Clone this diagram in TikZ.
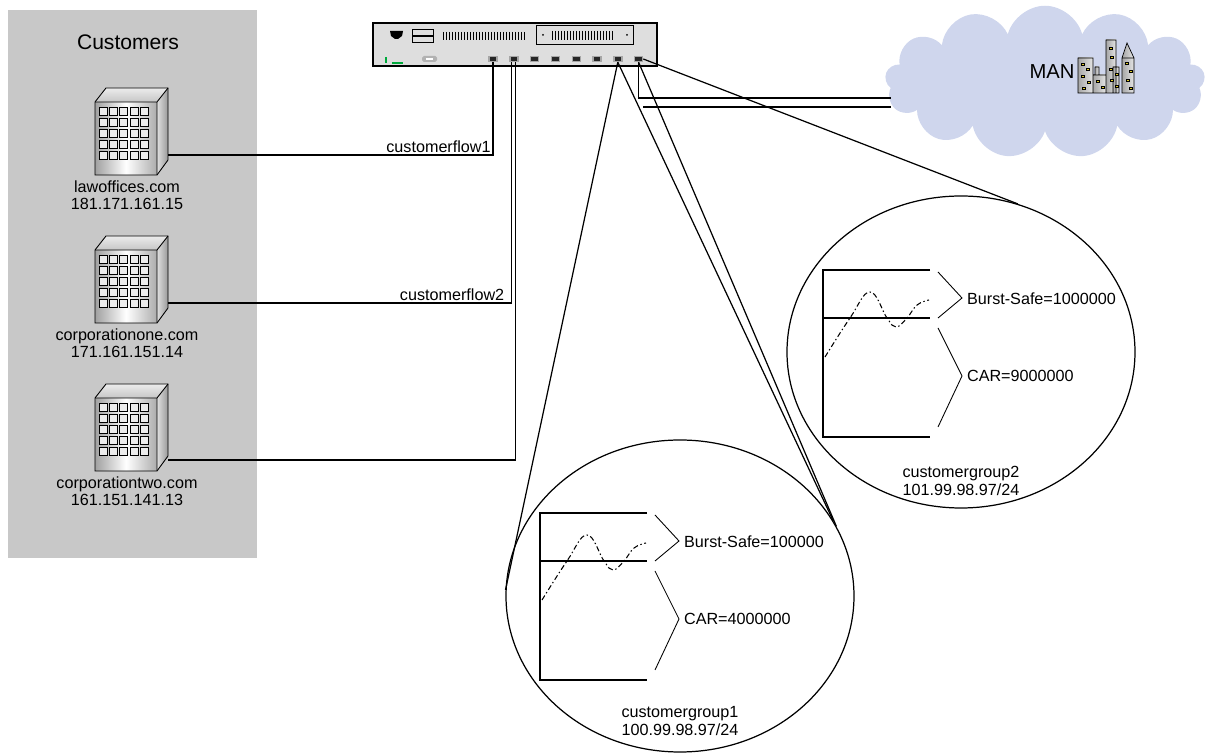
\documentclass[tikz,border=0pt]{standalone}
\usepackage{fontspec}
\setmainfont{Liberation Sans}
\usepackage{tikz}
\usetikzlibrary{shapes.geometric, shapes.symbols}
\usetikzlibrary{positioning}
\definecolor{panelgray}{RGB}{200,200,200}
\definecolor{cloudblue}{RGB}{207,214,237}
\definecolor{boxgray}{RGB}{222,222,222}
\definecolor{ledgreen}{RGB}{0,170,60}
\definecolor{winyellow}{RGB}{225,205,40}
\tikzstyle{port} = [rectangle, fill=black!85, draw=gray!70, line width=0.8pt, minimum width=0.16cm, minimum height=0.1cm, inner sep=0pt]
\tikzstyle{link} = [line width=0.7pt]
\tikzstyle{lbl} = [font=\fontsize{9.2}{9.4}\selectfont, inner sep=1pt]
\tikzstyle{zoomcirc} = [ellipse, draw, line width=0.7pt, minimum width=6.96cm, minimum height=6.24cm, inner sep=0pt]

\begin{document}
\begin{tikzpicture}[x=0.2mm, y=-0.2mm]
	\useasboundingbox (0,0) rectangle (1206,755);
	% customer side
	\fill[panelgray] (8,10) rectangle (257,558);
	\node [font=\fontsize{12}{13}\selectfont] (cust) at (128,42) {Customers};
	\foreach \i/\y/\ly/\dom/\ip in {1/138/155/lawoffices.com/181.171.161.15, 2/286/303/corporationone.com/171.161.151.14, 3/434/460/corporationtwo.com/161.151.141.13} {
		\shade[left color=gray!75, right color=gray!65, middle color=white] (95,\y-36) rectangle (157,\y+37);
		\shade[top color=gray!15, bottom color=gray!45] (95,\y-36) -- (106,\y-50) -- (168,\y-50) -- (157,\y-36) -- cycle;
		\shade[left color=gray!25, right color=gray!80] (157,\y-36) -- (168,\y-50) -- (168,\y+22) -- (157,\y+37) -- cycle;
		\draw[line width=0.5pt] (95,\y+37) -- (95,\y-36) -- (106,\y-50) -- (168,\y-50) -- (168,\y+22) -- (157,\y+37) -- cycle;
		\draw[line width=0.5pt] (95,\y-36) -- (157,\y-36) -- (168,\y-50) (157,\y-36) -- (157,\y+37);
		\foreach \c in {0,...,4}
			\foreach \r in {0,...,4}
				\draw[fill=white!85!gray, line width=0.5pt] (99.5+\c*10.2,\y-31+\r*11) rectangle ++(8,8);
		\coordinate (bld\i) at (168,\ly);
		\node [lbl, align=center] (dom\i) at (127,\y+57) {\dom\\\ip};
	}

	% switch
	\node [draw, fill=boxgray, line width=0.6pt, minimum width=5.68cm, minimum height=0.86cm, inner sep=0pt] (switch) at (515,44.5) {};
	\fill (390,31) -- (403,31) -- (402,36) -- (398,39) -- (395,39) -- (391,36) -- cycle;
	\draw[line width=0.5pt] (412,29) rectangle (433,35);
	\draw[line width=0.5pt] (412,36) rectangle (433,42);
	\foreach \k in {0,...,27}
		\draw[line width=0.4pt] (443+\k*3,32) -- ++(0,8);
	\draw[line width=0.5pt] (536,25) rectangle (633,44);
	\fill (543,35) circle (1);
	\fill (627,35) circle (1);
	\foreach \k in {0,...,20}
		\draw[line width=0.4pt] (552+\k*3,31) -- ++(0,9);
	\draw[ledgreen, line width=0.6pt] (386,57) -- (386,63);
	\draw[ledgreen, line width=0.6pt] (392,63) -- (403,63);
	\fill[gray!60, rounded corners=1pt] (422,56) rectangle (437,62);
	\fill[white] (426,58) rectangle (433,60);
	\foreach \i in {1,...,8}
		\node [port] (p\i) at ({493+(\i-1)*20.8},59) {};

	% metro network
	\node [cloud, fill=cloudblue, cloud puffs=13, aspect=2.1, minimum width=6.4cm, minimum height=3.05cm, inner sep=0pt] (man) at (1045,82) {};
	\node [font=\fontsize{11.5}{12}\selectfont, inner sep=0pt] (mantxt) at (1052,72) {MAN};
	\shade[left color=gray!70, right color=gray!20] (1078,58) rectangle (1093,93);
	\shade[left color=gray!70, right color=gray!20] (1095,67) rectangle (1099,75);
	\shade[left color=gray!70, right color=gray!20] (1093,75) rectangle (1106,93);
	\shade[left color=gray!70, right color=gray!20] (1106,40) rectangle (1116,93);
	\shade[left color=gray!70, right color=gray!20] (1113,67) rectangle (1119,93);
	\shade[left color=gray!70, right color=gray!20] (1122,58) -- (1127,43) -- (1134,58) -- (1134,93) -- (1122,93) -- cycle;
	\draw[line width=0.4pt] (1078,58) rectangle (1093,93) (1095,67) rectangle (1099,75) (1093,75) rectangle (1106,93)
		(1106,40) rectangle (1116,93) (1113,67) rectangle (1119,93) (1122,58) -- (1127,43) -- (1134,58) -- (1134,93) -- (1122,93) -- cycle (1122,58) -- (1134,58);
	\foreach \wx/\wy in {1081/63, 1086/68, 1081/75, 1087/81, 1082/87, 1096/80, 1101/86, 1109/47, 1110/56, 1109/68, 1110/79, 1115/73, 1115/85, 1125/62, 1129/70, 1126/79, 1129/87}
		\draw[fill=winyellow, line width=0.3pt] (\wx,\wy) rectangle ++(3.5,2.5);

	% customer flows
	\draw[link] (bld1) -| (p1.south) node [lbl, pos=0.5, above left] {customerflow1};
	\draw[link] (bld2) -| ([xshift=-1.1pt]p2.south) node [lbl, pos=0.5, above left, xshift=-3pt] {customerflow2};
	\draw[link] (bld3) -| ([xshift=1.1pt]p2.south);

	% uplink to the MAN
	\coordinate (up1) at (891,98);
	\coordinate (up2a) at (643,107);
	\coordinate (up2) at (891,107);
	\draw[link] (p8.south) |- (up1);
	\draw[link] (up2a) -- (up2);

	% customer groups
	\node [zoomcirc] (g1) at (680,596) {};
	\node [zoomcirc] (g2) at (961,352) {};
	\draw[link] (p7.south) -- (g1.178);
	\draw[link] (p7.south) -- (g1.26);
	\draw[link] (p8.south) -- (g1.24);
	\draw[link] (p8.east) -- (g2.69);

	\foreach \n/\ox/\oy/\bs/\car/\ly/\grp/\net in {1/540/513/100000/4000000/721/customergroup1/{100.99.98.97/24}, 2/823/270/1000000/9000000/481/customergroup2/{101.99.98.97/24}} {
		\begin{scope}[shift={(\ox,\oy)}]
			\draw[line width=1pt] (107,0) -- (0,0) -- (0,167) -- (107,167);
			\draw[line width=1pt] (0,48) -- (107,48);
			\draw[line width=0.6pt, dash pattern=on 3pt off 1.5pt on 0.8pt off 1.5pt] plot[smooth, tension=0.7] coordinates {(2,87) (27,48) (47,22) (64,48) (73,57) (84,48) (94,35) (106,30)};
			\draw[line width=0.5pt] (115,2) -- (139,28) -- (115,48);
			\draw[line width=0.5pt] (115,58) -- (139,106) -- (115,157);
			\node [lbl, anchor=west] (burst\n) at (142,29) {Burst-Safe=\bs};
			\node [lbl, anchor=west] (car\n) at (142,106) {CAR=\car};
		\end{scope}
		\node [lbl, align=center, font=\fontsize{9.2}{10.2}\selectfont] (grp\n) at (g\n.center |- 0,\ly) {\grp\\\net};
	}
\end{tikzpicture}
\end{document}
